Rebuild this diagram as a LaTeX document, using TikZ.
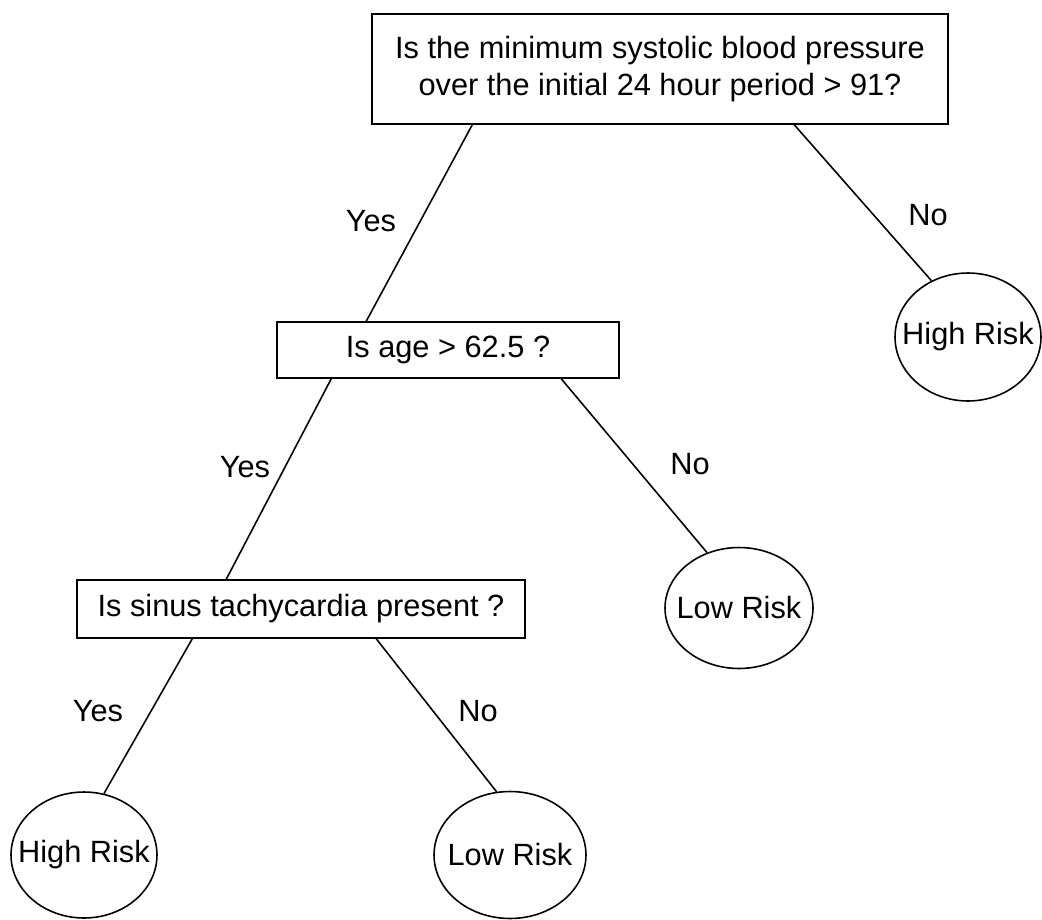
\documentclass[tikz,border=0pt]{standalone}
\usepackage{fontspec}
\setmainfont{Liberation Sans}
\usetikzlibrary{shapes.geometric,calc}
\newcommand{\lftxt}[1]{\makebox[0pt][c]{#1}}
\begin{document}
\begin{tikzpicture}[x=0.02cm,y=-0.02cm,
  font=\fontsize{17.5}{21.5}\selectfont,
  qbox/.style={draw,line width=0.9pt,inner sep=0pt,align=center},
  leaf/.style={draw,ellipse,line width=0.9pt,inner sep=0pt},
  edge/.style={line width=0.9pt},
  lbl/.style={inner sep=0pt}]
\useasboundingbox (0,0) rectangle (1042,920);
% question boxes
\node[qbox,minimum width=11.52cm,minimum height=2.2cm] (top) at (660,69)
  {Is the minimum systolic blood pressure\\over the initial 24 hour period > 91?};
\node[qbox,minimum width=6.84cm,minimum height=1.12cm] (age) at (448,350) {Is age > 62.5 ?};
\node[qbox,minimum width=8.96cm,minimum height=1.16cm] (sinus) at (301,609) {Is sinus tachycardia present ?};
% leaves
\node[leaf,minimum width=2.92cm,minimum height=2.56cm] (hr1) at (968,337) {\lftxt{High Risk}};
\node[leaf,minimum width=2.96cm,minimum height=2.42cm] (lr1) at (739,608) {\lftxt{Low Risk}};
\node[leaf,minimum width=2.92cm,minimum height=2.52cm] (hr2) at (84,855) {\lftxt{High Risk}};
\node[leaf,minimum width=3.04cm,minimum height=2.54cm] (lr2) at (510,855) {\lftxt{Low Risk}};
% connectors
\draw[edge] ($(top.south west)+(101,0)$) -- ($(age.north west)+(90,0)$);
\draw[edge] ($(top.south west)+(423,0)$) -- (hr1.123);
\draw[edge] ($(age.south west)+(55,0)$) -- ($(sinus.north west)+(150,0)$);
\draw[edge] ($(age.south west)+(285,0)$) -- (lr1.120);
\draw[edge] ($(sinus.south west)+(116,0)$) -- (hr2.72);
\draw[edge] ($(sinus.south west)+(300,0)$) -- (lr2.102);
% labels
\node[lbl] (y1) at (371,221) {Yes};
\node[lbl] (n1) at (928,215) {No};
\node[lbl] (y2) at (245,467) {Yes};
\node[lbl] (n2) at (690,464) {No};
\node[lbl] (y3) at (98,711) {Yes};
\node[lbl] (n3) at (478,711) {No};
\end{tikzpicture}
\end{document}
